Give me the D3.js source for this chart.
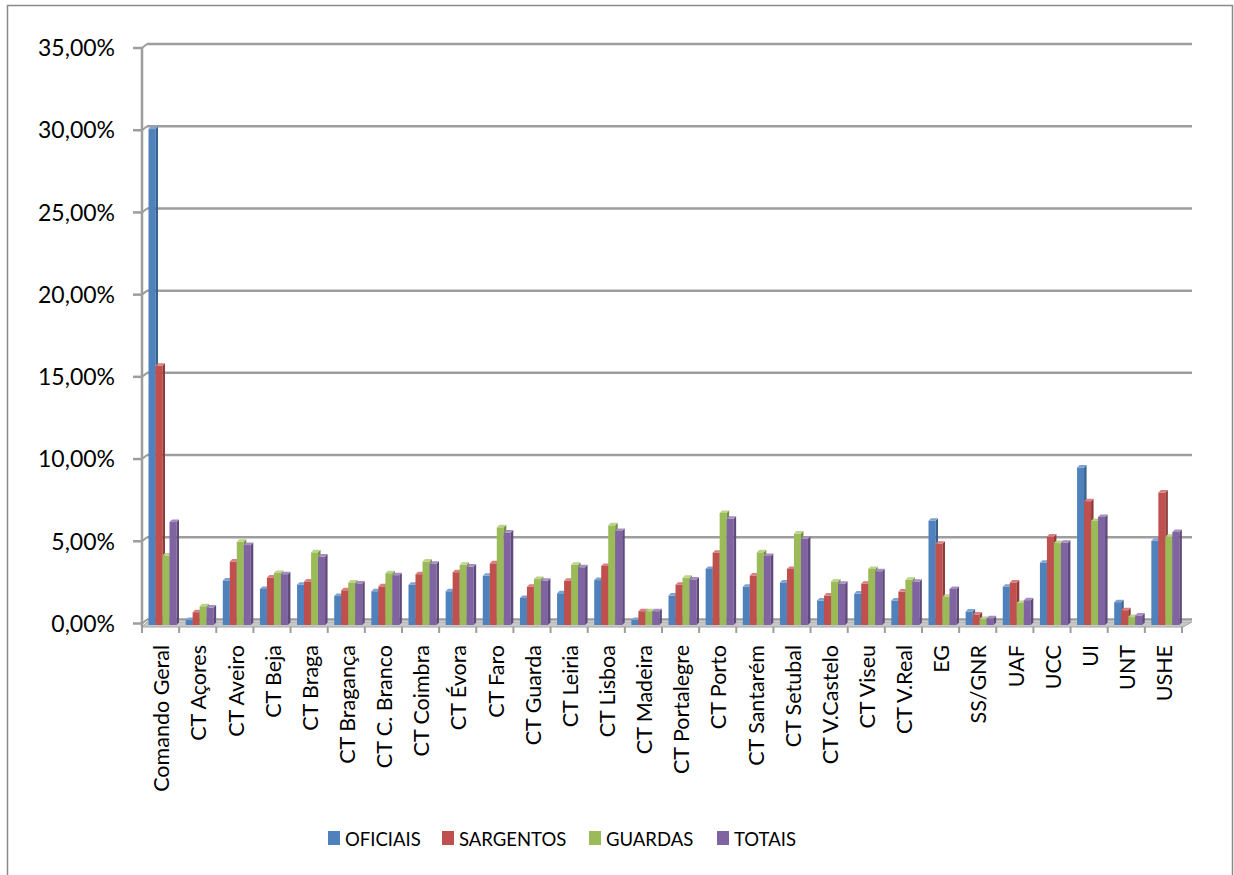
<!DOCTYPE html>
<html>
<head>
<meta charset="utf-8">
<script src="https://cdn.jsdelivr.net/npm/d3@7"></script>
<style>
  body { margin: 0; background: #fff; }
  svg { display: block; font-family: Lato, "Open Sans", sans-serif; }
</style>
</head>
<body>
<svg width="1234" height="875"></svg>
<script>
// values (percent)
const categories = ["Comando Geral", "CT Açores", "CT Aveiro", "CT Beja", "CT Braga", "CT Bragança",
  "CT C. Branco", "CT Coimbra", "CT Évora", "CT Faro", "CT Guarda", "CT Leiria", "CT Lisboa",
  "CT Madeira", "CT Portalegre", "CT Porto", "CT Santarém", "CT Setubal", "CT V.Castelo",
  "CT Viseu", "CT V.Real", "EG", "SS/GNR", "UAF", "UCC", "UI", "UNT", "USHE"];
const oficiais  = [30.1, 0.24, 2.65, 2.13, 2.39, 1.70, 1.99, 2.39, 1.99, 2.93, 1.58, 1.87, 2.67, 0.24, 1.73, 3.35, 2.27, 2.53, 1.43, 1.85, 1.43, 6.28, 0.76, 2.27, 3.73, 9.52, 1.33, 5.06];
const sargentos = [15.7, 0.72, 3.80, 2.83, 2.59, 2.05, 2.29, 3.03, 3.15, 3.69, 2.27, 2.63, 3.53, 0.78, 2.39, 4.34, 2.95, 3.35, 1.73, 2.45, 1.97, 4.88, 0.58, 2.53, 5.32, 7.47, 0.84, 8.00];
const guardas   = [4.16, 1.08, 5.00, 3.10, 4.36, 2.53, 3.09, 3.80, 3.60, 5.88, 2.73, 3.60, 6.00, 0.78, 2.81, 6.75, 4.36, 5.50, 2.59, 3.35, 2.69, 1.65, 0.30, 1.28, 4.92, 6.27, 0.42, 5.30];
const totais    = [6.20, 1.00, 4.80, 3.03, 4.10, 2.47, 2.97, 3.67, 3.49, 5.56, 2.63, 3.45, 5.66, 0.78, 2.71, 6.40, 4.14, 5.18, 2.45, 3.21, 2.57, 2.13, 0.35, 1.45, 4.94, 6.51, 0.52, 5.60];
const seriesNames = ["OFICIAIS", "SARGENTOS", "GUARDAS", "TOTAIS"];
const yTicks = [0, 5, 10, 15, 20, 25, 30, 35];

const series = [oficiais, sargentos, guardas, totais];
const colors = [
  { front: "#4f81bd", side: "#37618f", top: "#7fa3d0" },
  { front: "#c0504d", side: "#913a38", top: "#d6817f" },
  { front: "#9bbb59", side: "#74903f", top: "#bcd38c" },
  { front: "#8064a2", side: "#5f4a7b", top: "#a58fc0" }
];

const svg = d3.select("svg");
const depth = { dx: 5, dy: -4 };   // back wall offset
const gridColor = "#9d9d9d";

const x = d3.scaleBand().domain(categories).range([142, 1182]).paddingInner(0).paddingOuter(0);
const y = d3.scaleLinear().domain([0, 35]).range([623.5, 48]);
const fmt = v => d3.format(".2f")(v).replace(".", ",") + "%";

// chart frame
svg.append("rect")
  .attr("x", 7.5).attr("y", 5.5)
  .attr("width", 1225).attr("height", 880)
  .attr("fill", "none").attr("stroke", "#8a8a8a").attr("stroke-width", 1.5);

// floor
const floorFront = 627, floorBack = 622;
svg.append("path")
  .attr("d", `M142,${floorFront} L1183,${floorFront} L1192,${floorBack} L147,${floorBack} Z`)
  .attr("fill", "#c8c8c8").attr("stroke", "#a5a5a5").attr("stroke-width", 1);

// gridlines on back wall + diagonal to side wall + ticks
const grid = svg.append("g");
yTicks.forEach(t => {
  const yy = y(t);
  grid.append("line")
    .attr("x1", 142 + depth.dx).attr("x2", 1192)
    .attr("y1", yy + depth.dy).attr("y2", yy + depth.dy)
    .attr("stroke", gridColor).attr("stroke-width", 2.5);
  grid.append("line")
    .attr("x1", 142).attr("x2", 142 + depth.dx)
    .attr("y1", yy).attr("y2", yy + depth.dy)
    .attr("stroke", gridColor).attr("stroke-width", 2);
  grid.append("line")
    .attr("x1", 133).attr("x2", 142)
    .attr("y1", yy).attr("y2", yy)
    .attr("stroke", gridColor).attr("stroke-width", 2.5);
  grid.append("text")
    .attr("x", 115).attr("y", yy)
    .attr("dy", "0.36em")
    .attr("text-anchor", "end")
    .attr("font-size", 23)
    .attr("fill", "#000")
    .text(fmt(t));
});
// side wall edge
svg.append("line")
  .attr("x1", 142).attr("x2", 142)
  .attr("y1", y(35)).attr("y2", floorFront)
  .attr("stroke", gridColor).attr("stroke-width", 2.5);

// category ticks
const bw = x.bandwidth();
d3.range(categories.length + 1).forEach(i => {
  const xx = 142 + i * bw;
  svg.append("line")
    .attr("x1", xx).attr("x2", xx)
    .attr("y1", floorFront).attr("y2", 633)
    .attr("stroke", gridColor).attr("stroke-width", 2);
});

// 3D bars
const barW = 7, d = 2.5, base = 625;
const bars = svg.append("g");
categories.forEach((c, ci) => {
  series.forEach((s, si) => {
    const x0 = x(c) + 6.5 + si * barW;
    const yt = y(s[ci]) + d - 2;
    const col = colors[si];
    bars.append("rect")
      .attr("x", x0).attr("y", yt)
      .attr("width", barW).attr("height", Math.max(0, base - yt))
      .attr("fill", col.front);
    bars.append("path")
      .attr("d", `M${x0 + barW},${yt} L${x0 + barW + d},${yt - d} L${x0 + barW + d},${base - d} L${x0 + barW},${base} Z`)
      .attr("fill", col.side);
    bars.append("path")
      .attr("d", `M${x0},${yt} L${x0 + d},${yt - d} L${x0 + barW + d},${yt - d} L${x0 + barW},${yt} Z`)
      .attr("fill", col.top);
  });
});

// category labels (rotated)
svg.append("g").selectAll("text")
  .data(categories)
  .join("text")
  .attr("transform", c => `translate(${x(c) + bw / 2 + 1},645) rotate(-90)`)
  .attr("dy", "0.36em")
  .attr("text-anchor", "end")
  .attr("font-size", 21.5)
  .attr("fill", "#000")
  .text(c => c);

// legend
const legendX = [328, 442, 589, 717];
const legend = svg.append("g");
seriesNames.forEach((n, i) => {
  legend.append("rect")
    .attr("x", legendX[i]).attr("y", 831)
    .attr("width", 12).attr("height", 14)
    .attr("fill", colors[i].front);
  legend.append("text")
    .attr("x", legendX[i] + 17).attr("y", 846)
    .attr("font-size", 18.5)
    .attr("fill", "#000")
    .text(n);
});
</script>
</body>
</html>
